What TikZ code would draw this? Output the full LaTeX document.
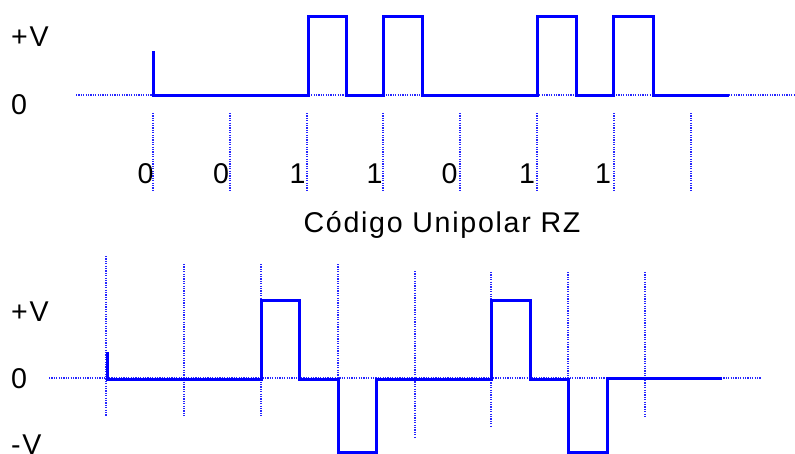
\documentclass[tikz,border=0pt]{standalone}
\usepackage{fontspec}
\setmainfont{Liberation Sans}[LetterSpace=6]
\begin{document}
\begin{tikzpicture}[x=1pt,y=-1pt,
  wave/.style={draw=blue,line width=3pt,line join=miter},
  grid/.style={draw=blue!85,line width=1.2pt,dash pattern=on 1.2pt off 1.2pt},
  lbl/.style={inner sep=0pt,anchor=base west,font=\fontsize{28.6}{34}\selectfont},
  bit/.style={inner sep=0pt,anchor=base,font=\fontsize{28.6}{34}\selectfont}]
\useasboundingbox (0,0) rectangle (795,453);

% ---- Unipolar RZ ----
\draw[grid] (76,95) -- (795,95);
\foreach \x in {153,230,307,383,460,537,614,691}
  \draw[grid] (\x,113) -- (\x,192);
\draw[wave] (153,51) -- (153,95) -- (308,95) -- (308,16) -- (346,16) -- (346,95)
  -- (383,95) -- (383,16) -- (422,16) -- (422,95) -- (537,95) -- (537,16)
  -- (576,16) -- (576,95) -- (613,95) -- (613,16) -- (653,16) -- (653,95) -- (729,95);

\node[lbl] (vpA) at (11,46) {+V};
\node[lbl] (zA) at (11,114.5) {0};
\node[bit] (b1) at (145.5,183) {0};
\node[bit] (b2) at (221,183) {0};
\node[bit] (b3) at (297.5,183) {1};
\node[bit] (b4) at (374.5,183) {1};
\node[bit] (b5) at (449.5,183) {0};
\node[bit] (b6) at (527,183) {1};
\node[bit] (b7) at (603,183) {1};
\node[bit] (title) at (442,232.5) {Código Unipolar RZ};

% ---- Bipolar RZ ----
\draw[grid] (49,378) -- (761,378);
\draw[grid] (106,256) -- (106,416);
\foreach \x/\a/\b in {184/264/417,261/264/417,338/264/417,415/271/437,491/272/427,568/272/420,645/272/418}
  \draw[grid] (\x,\a) -- (\x,\b);
\draw[wave] (107,352) -- (107,379) -- (261,379) -- (261,300) -- (299,300) -- (299,379)
  -- (338,379) -- (338,452) -- (376,452) -- (376,379) -- (491,379) -- (491,300)
  -- (530,300) -- (530,379) -- (568,379) -- (568,452) -- (607,452) -- (607,378) -- (722,378);

\node[lbl] (vpB) at (11,321) {+V};
\node[lbl] (zB) at (11,388.5) {0};
\node[lbl] (vnB) at (11,454.5) {-V};
\end{tikzpicture}
\end{document}
